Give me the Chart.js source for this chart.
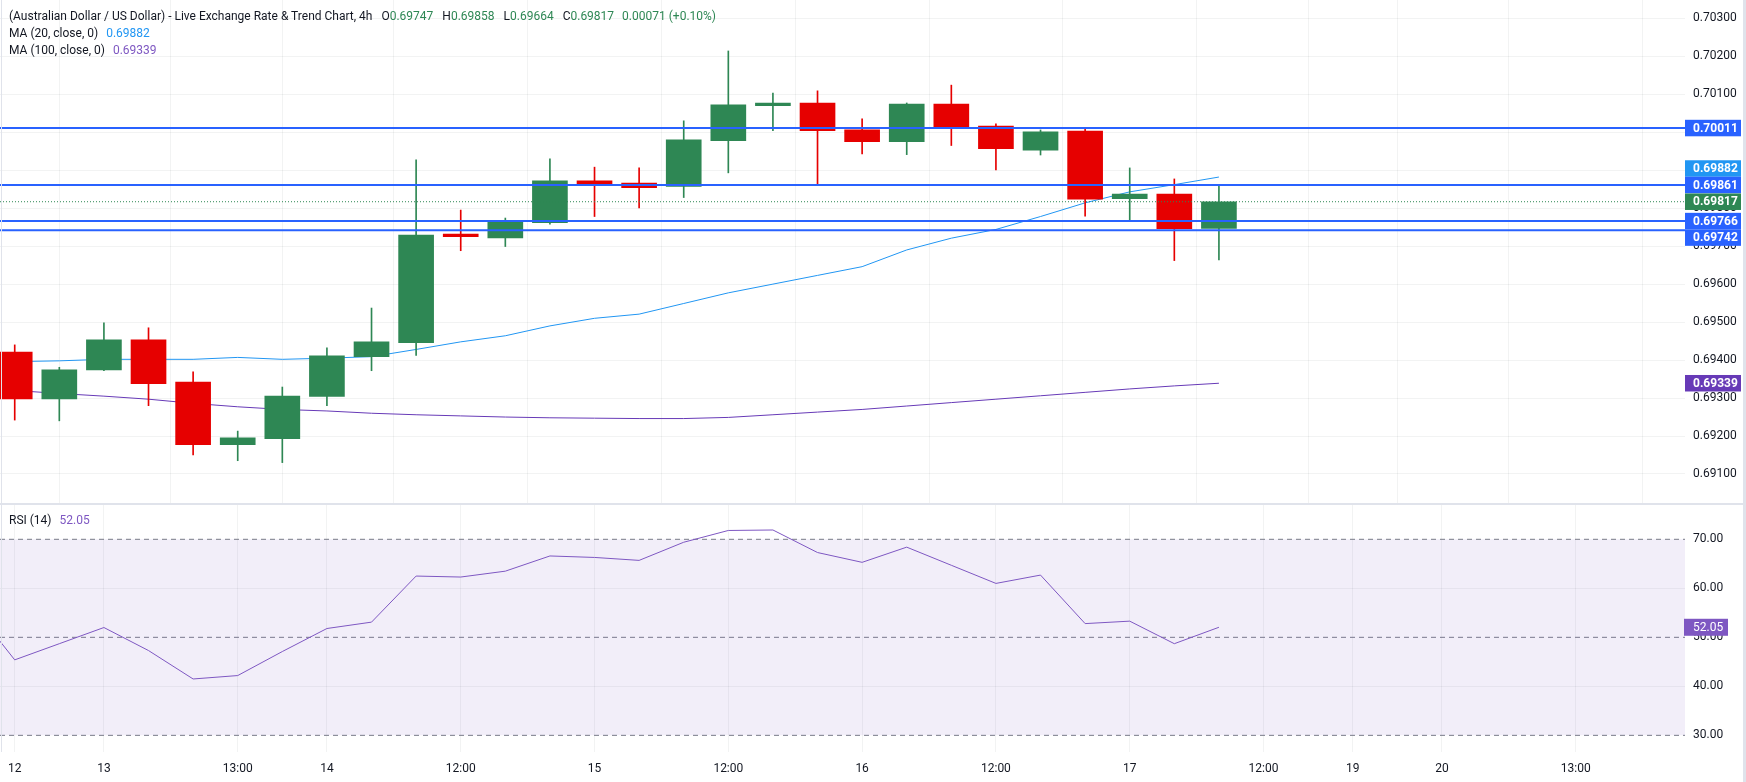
<!DOCTYPE html>
<html>
<head>
<meta charset="utf-8">
<title>AUD/USD 4h</title>
<script src="https://cdn.jsdelivr.net/npm/chart.js@4.4.1/dist/chart.umd.min.js"></script>
<style>
  body { margin: 0; background: #fff; font-family: Roboto, sans-serif; }
  #wrap { position: relative; width: 1746px; height: 782px; overflow: hidden; }
  #wrap canvas { position: absolute; left: 0; }
  #price { top: 0; }
  #rsi { top: 504px; }
  .legend { position: absolute; left: 9px; font-size: 12px; line-height: 16px; color: #131722; white-space: nowrap; }
  .legend span { margin-left: 8px; }
  .legend span.k { margin-left: 9px; }
  .legend span.k + span { margin-left: 0; }
  .up { color: #2e8754; }
  #sep { position: absolute; left: 0; top: 503px; width: 1746px; height: 2px; background: #e0e3eb; }
  #edgeR { position: absolute; left: 1743px; top: 0; width: 3px; height: 782px; background: #e0e3eb; }
  #edgeL { position: absolute; left: 1px; top: 0; width: 1px; height: 752px; background: #e0e3eb; }
</style>
</head>
<body>
<div id="wrap">
  <canvas id="price" width="1746" height="504"></canvas>
  <canvas id="rsi" width="1746" height="278"></canvas>
  <div id="sep"></div>
  <div id="edgeR"></div>
  <div id="edgeL"></div>
  <div class="legend" style="top:8px">(Australian Dollar / US Dollar) - Live Exchange Rate &amp; Trend Chart, 4h<span class="k">O</span><span class="up" id="lgO"></span><span class="k">H</span><span class="up" id="lgH"></span><span class="k">L</span><span class="up" id="lgL"></span><span class="k">C</span><span class="up" id="lgC"></span><span class="up" id="lgChg"></span></div>
  <div class="legend" style="top:25px">MA (20, close, 0)<span id="lgMa20" style="color:#2196f3"></span></div>
  <div class="legend" style="top:42px">MA (100, close, 0)<span id="lgMa100" style="color:#7e57c2"></span></div>
  <div class="legend" style="top:512px">RSI (14)<span id="lgRsi" style="color:#7e57c2"></span></div>
</div>
<script>
// 4h candles, bar 0 = first visible candle
const opens  = [0.69421, 0.69298, 0.69374, 0.69453, 0.69342, 0.69177, 0.69193, 0.69304, 0.69409, 0.69446, 0.69732, 0.69722, 0.69762, 0.69872,
                0.69866, 0.69857, 0.69978, 0.70070, 0.70077, 0.70006, 0.69975, 0.70074, 0.70016, 0.69953, 0.70003, 0.69825, 0.69837, 0.69747]
const highs  = [0.69440, 0.69381, 0.69498, 0.69485, 0.69369, 0.69213, 0.69329, 0.69432, 0.69537, 0.69927, 0.69795, 0.69774, 0.69930, 0.69908,
                0.69906, 0.70030, 0.70214, 0.70103, 0.70109, 0.70035, 0.70077, 0.70124, 0.70022, 0.70006, 0.70010, 0.69906, 0.69877, 0.69858]
const lows   = [0.69242, 0.69240, 0.69372, 0.69280, 0.69150, 0.69135, 0.69130, 0.69280, 0.69372, 0.69412, 0.69688, 0.69699, 0.69758, 0.69778,
                0.69801, 0.69828, 0.69893, 0.70004, 0.69864, 0.69943, 0.69941, 0.69965, 0.69901, 0.69940, 0.69779, 0.69767, 0.69662, 0.69664]
const closes = [0.69298, 0.69374, 0.69453, 0.69338, 0.69177, 0.69195, 0.69305, 0.69411, 0.69448, 0.69729, 0.69725, 0.69764, 0.69872, 0.69864,
                0.69854, 0.69980, 0.70072, 0.70077, 0.70004, 0.69975, 0.70074, 0.70014, 0.69957, 0.70001, 0.69824, 0.69837, 0.69746, 0.69817]

// indicator series start one bar before the first candle
const lineStart = -1
const ma20  = [0.69395, 0.69396, 0.69398, 0.69402, 0.69402, 0.69402, 0.69407, 0.69402, 0.69405, 0.69409, 0.69428, 0.69448, 0.69464, 0.69490, 0.69510,
               0.69521, 0.69549, 0.69577, 0.69600, 0.69623, 0.69646, 0.69690, 0.69721, 0.69744, 0.69778, 0.69814, 0.69843, 0.69862, 0.69882]
const ma100 = [0.69328, 0.69320, 0.69312, 0.69305, 0.69297, 0.69286, 0.69277, 0.69270, 0.69266, 0.69260, 0.69256, 0.69253, 0.69250, 0.69248, 0.69247,
               0.69246, 0.69246, 0.69249, 0.69256, 0.69263, 0.69270, 0.69279, 0.69288, 0.69297, 0.69306, 0.69315, 0.69324, 0.69332, 0.69339]
const rsi   = [56.9, 45.4, 48.7, 52.0, 47.3, 41.5, 42.2, 47.1, 51.8, 53.1, 62.5, 62.3, 63.5, 66.6, 66.3,
               65.7, 69.4, 71.8, 71.9, 67.3, 65.3, 68.4, 64.7, 61.0, 62.7, 52.8, 53.3, 48.7, 52.05]

// horizontal support / resistance lines
const levels = [0.70011, 0.69861, 0.69766, 0.69742]

const priceTicks = [0.703, 0.702, 0.701, 0.700, 0.699, 0.698, 0.697, 0.696, 0.695, 0.694, 0.693, 0.692, 0.691]
const rsiTicks = [70, 60, 50, 40, 30]
const rsiBands = [70, 50, 30]
const timeTickBars = [0, 2, 5, 7, 10, 13, 16, 19, 22, 25, 28, 30, 32, 35]
const timeTickLabels = ['12', '13', '13:00', '14', '12:00', '15', '12:00', '16', '12:00', '17', '12:00', '19', '20', '13:00']

const X_MIN = -0.33, X_MAX = 37.45
const UP = '#2e8754', DOWN = '#e60000'
const GRID = 'rgba(42,46,57,0.06)'
const TEXT = '#131722'

Chart.defaults.font.family = 'Roboto, sans-serif'
Chart.defaults.font.size = 12
Chart.defaults.color = TEXT

const last = closes.length - 1
const candleColors = closes.map((c, i) => c >= opens[i] ? UP : DOWN)
const flat = v => [{x: X_MIN, y: v}, {x: X_MAX, y: v}]
const asPoints = arr => arr.map((v, i) => ({x: lineStart + i, y: v}))

/** legend values */
const chg = closes[last] - closes[last - 1]
document.getElementById('lgO').textContent = opens[last].toFixed(5)
document.getElementById('lgH').textContent = highs[last].toFixed(5)
document.getElementById('lgL').textContent = lows[last].toFixed(5)
document.getElementById('lgC').textContent = closes[last].toFixed(5)
document.getElementById('lgChg').textContent = `${chg.toFixed(5)} (+${(chg / closes[last - 1] * 100).toFixed(2)}%)`
document.getElementById('lgMa20').textContent = ma20[ma20.length - 1].toFixed(5)
document.getElementById('lgMa100').textContent = ma100[ma100.length - 1].toFixed(5)
document.getElementById('lgRsi').textContent = rsi[rsi.length - 1].toFixed(2)

/** no automatic padding, the panes line up exactly */
function noPad(scale) {
    scale.paddingTop = 0
    scale.paddingBottom = 0
    scale.paddingLeft = 0
    scale.paddingRight = 0
}

function timeAxis(showLabels) {
    return {
        type: 'linear', min: X_MIN, max: X_MAX, offset: false,
        afterBuildTicks: scale => { scale.ticks = timeTickBars.map(v => ({value: v})) },
        afterFit: scale => { scale.height = showLabels ? 30 : 0; noPad(scale) },
        grid: { color: GRID, drawTicks: false },
        border: { display: false },
        ticks: {
            display: showLabels, autoSkip: false, maxRotation: 0, padding: 10,
            callback: v => timeTickLabels[timeTickBars.indexOf(v)]
        }
    }
}

function valueAxis(min, max, tickList, digits, gridColor) {
    return {
        position: 'right', min, max,
        afterBuildTicks: scale => { scale.ticks = tickList.map(v => ({value: v})) },
        afterFit: scale => { scale.width = 61; noPad(scale) },
        grid: { color: gridColor, drawTicks: false },
        border: { display: false },
        ticks: { padding: 8, callback: v => v.toFixed(digits) }
    }
}

/** coloured value tags on the price axis, stacked around the last price */
const priceTags = {
    id: 'priceTags',
    afterDraw(chart) {
        const {ctx, chartArea, scales: {y}} = chart
        const h = 16.5
        const tags = [
            ...levels.map(v => ({v, c: '#2962ff'})),
            {v: ma20[ma20.length - 1], c: '#2196f3'},
            {v: closes[last], c: UP, anchor: true},
            {v: ma100[ma100.length - 1], c: '#673ab7'}
        ].map(t => ({...t, y: y.getPixelForValue(t.v)})).sort((a, b) => a.y - b.y)
        const a = tags.findIndex(t => t.anchor)
        for (let k = a - 1; k >= 0; k--) {
            if (tags[k].y > tags[k + 1].y - h) tags[k].y = tags[k + 1].y - h
        }
        for (let k = a + 1; k < tags.length; k++) {
            if (tags[k].y < tags[k - 1].y + h) tags[k].y = tags[k - 1].y + h
        }
        ctx.save()
        ctx.font = 'bold 12px Roboto, sans-serif'
        ctx.textBaseline = 'middle'
        tags.forEach(t => {
            ctx.fillStyle = t.c
            ctx.fillRect(chartArea.right, t.y - h / 2, 56, h)
            ctx.fillStyle = '#fff'
            ctx.fillText(t.v.toFixed(5), chartArea.right + 8, t.y + 0.5)
        })
        ctx.restore()
    }
}

new Chart(document.getElementById('price'), {
    type: 'bar',
    data: {
        datasets: [
            ...levels.map(v => ({
                type: 'line', data: flat(v), borderColor: '#2962ff', borderWidth: 2, pointRadius: 0, order: 0
            })),
            {
                type: 'line', data: flat(closes[last]), borderColor: UP, borderWidth: 1,
                borderDash: [1, 2], pointRadius: 0, order: 0
            },
            {
                data: opens.map((o, i) => ({x: i, y: [o, closes[i]]})),
                backgroundColor: candleColors, barThickness: 35, minBarLength: 1,
                grouped: false, borderWidth: 0, order: 1
            },
            {
                data: lows.map((l, i) => ({x: i, y: [l, highs[i]]})),
                backgroundColor: candleColors, barThickness: 1,
                grouped: false, borderWidth: 0, order: 2
            },
            {
                type: 'line', data: asPoints(ma20), borderColor: '#2196f3', borderWidth: 1, pointRadius: 0, order: 3
            },
            {
                type: 'line', data: asPoints(ma100), borderColor: '#673ab7', borderWidth: 1, pointRadius: 0, order: 3
            }
        ]
    },
    options: {
        responsive: false, animation: false,
        layout: { padding: 0, autoPadding: false },
        plugins: { legend: { display: false }, tooltip: { enabled: false } },
        scales: {
            x: timeAxis(false),
            y: valueAxis(0.690210, 0.7034819, priceTicks, 5, GRID)
        }
    },
    plugins: [priceTags]
})

/** rsi value tag */
const rsiTag = {
    id: 'rsiTag',
    afterDraw(chart) {
        const {ctx, chartArea, scales: {y}} = chart
        const v = rsi[rsi.length - 1]
        const yy = y.getPixelForValue(v)
        ctx.save()
        ctx.fillStyle = '#7e57c2'
        ctx.fillRect(chartArea.right - 1, yy - 8.5, 44, 17)
        ctx.fillStyle = '#fff'
        ctx.font = '12px Roboto, sans-serif'
        ctx.textBaseline = 'middle'
        ctx.fillText(v.toFixed(2), chartArea.right + 8, yy + 0.5)
        ctx.restore()
    }
}

new Chart(document.getElementById('rsi'), {
    type: 'line',
    data: {
        datasets: [
            {
                data: asPoints(rsi), borderColor: '#7e57c2', borderWidth: 1, pointRadius: 0, order: 0
            },
            ...rsiBands.map((r, k) => ({
                data: flat(r), borderColor: '#787b86', borderWidth: 1, borderDash: [5, 4], pointRadius: 0, order: 1,
                fill: k === 0 ? {value: rsiBands[rsiBands.length - 1]} : false,
                backgroundColor: 'rgba(126,87,194,0.1)'
            }))
        ]
    },
    options: {
        responsive: false, animation: false,
        layout: { padding: { top: 1 }, autoPadding: false },
        plugins: { legend: { display: false }, tooltip: { enabled: false } },
        scales: {
            x: timeAxis(true),
            y: valueAxis(26.6, 77.0, rsiTicks, 2, c => rsiBands.includes(c.tick.value) ? 'transparent' : GRID)
        }
    },
    plugins: [rsiTag]
})
</script>
</body>
</html>
